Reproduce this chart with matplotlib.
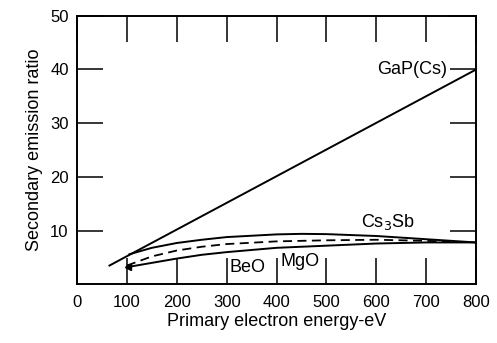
import numpy as np
import matplotlib.pyplot as plt

plt.rcParams['font.family'] = ['Liberation Sans', 'DejaVu Sans']

# GaP(Cs) straight line
gap_energy = [65, 800]
gap_ratio = [3.5, 40]

# Cs3Sb (upper solid curve)
cs_energy = [105, 150, 200, 250, 300, 400, 450, 500, 600, 700, 800]
cs_ratio = [5.6, 6.8, 7.7, 8.3, 8.8, 9.3, 9.4, 9.35, 9.0, 8.4, 7.8]

# MgO (dashed curve)
mgo_energy = [100, 150, 200, 250, 300, 400, 450, 500, 600, 700, 760]
mgo_ratio = [3.5, 5.2, 6.3, 7.0, 7.5, 8.0, 8.1, 8.2, 8.3, 8.1, 7.9]

# BeO (lower solid curve)
beo_energy = [100, 150, 200, 250, 300, 400, 450, 500, 600, 700, 800]
beo_ratio = [3.2, 4.0, 4.8, 5.5, 6.0, 6.8, 7.0, 7.2, 7.6, 7.8, 7.8]

fig = plt.figure(figsize=(4.97, 3.43), dpi=100)
ax = fig.add_axes([0.155, 0.171, 0.803, 0.783])

ax.plot(gap_energy, gap_ratio, color='black', lw=1.4)
ax.plot(cs_energy, cs_ratio, color='black', lw=1.4)
ax.plot(mgo_energy, mgo_ratio, color='black', lw=1.3, linestyle=(0, (5, 3)))
ax.plot(beo_energy, beo_ratio, color='black', lw=1.4)
ax.plot(beo_energy[0] + 3, beo_ratio[0], marker='<', color='black', ms=4)

ax.text(742, 40, 'GaP(Cs)', fontsize=13, ha='right', va='center')
ax.text(623, 11.7, 'Cs$_3$Sb', fontsize=13, ha='center', va='center')
ax.text(342, 3.2, 'BeO', fontsize=13, ha='center', va='center')
ax.text(448, 4.2, 'MgO', fontsize=13, ha='center', va='center')

ax.set_xlim(0, 800)
ax.set_ylim(0, 50)
ax.set_xticks(range(0, 900, 100))
ax.set_yticks(range(10, 60, 10))
ax.tick_params(direction='in', length=19, width=1.1, top=True, right=True,
               labelsize=12)
ax.tick_params(axis='x', pad=8)
ax.tick_params(axis='y', pad=6)
for s in ax.spines.values():
    s.set_linewidth(1.4)

ax.set_xlabel('Primary electron energy-eV', fontsize=13, labelpad=2)
ax.set_ylabel('Secondary emission ratio', fontsize=13, labelpad=5)

fig.savefig('out.png', dpi=100)
